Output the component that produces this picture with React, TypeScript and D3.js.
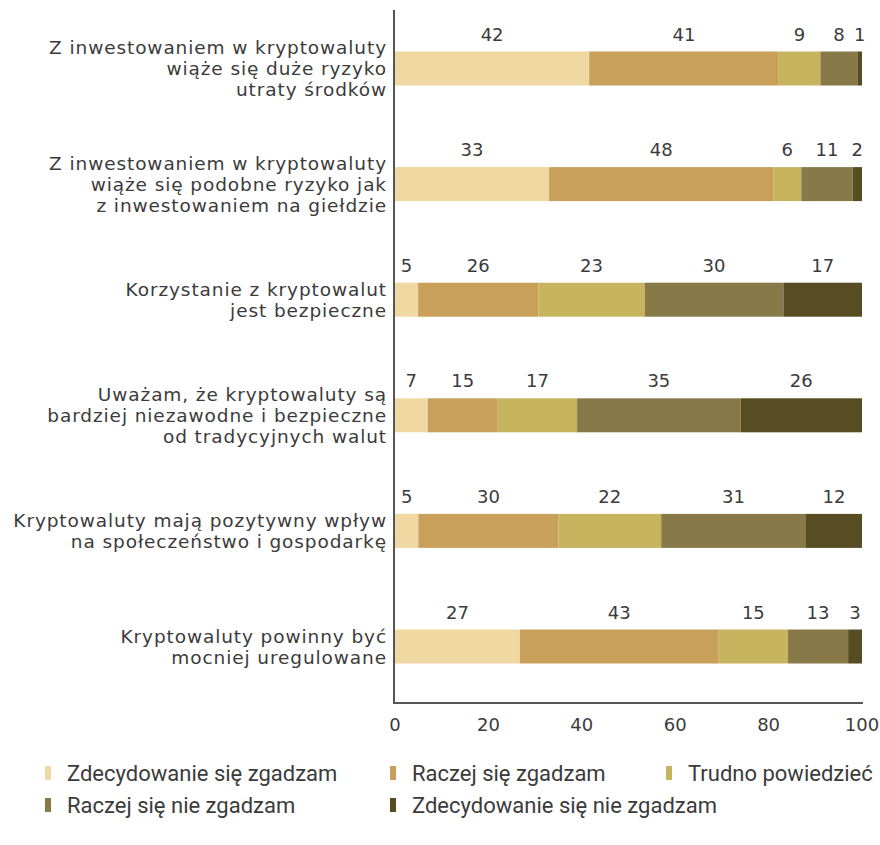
import React from "react";
import * as d3 from "d3";

// statements (one row each), split into lines as in the original
const statements = [
  ["Z inwestowaniem w kryptowaluty", "wiąże się duże ryzyko", "utraty środków"],
  ["Z inwestowaniem w kryptowaluty", "wiąże się podobne ryzyko jak", "z inwestowaniem na giełdzie"],
  ["Korzystanie z kryptowalut", "jest bezpieczne"],
  ["Uważam, że kryptowaluty są", "bardziej niezawodne i bezpieczne", "od tradycyjnych walut"],
  ["Kryptowaluty mają pozytywny wpływ", "na społeczeństwo i gospodarkę"],
  ["Kryptowaluty powinny być", "mocniej uregulowane"],
];

const zdecydowanieZgadzam = [42, 33, 5, 7, 5, 27];
const raczejZgadzam = [41, 48, 26, 15, 30, 43];
const trudnoPowiedziec = [9, 6, 23, 17, 22, 15];
const raczejNieZgadzam = [8, 11, 30, 35, 31, 13];
const zdecydowanieNieZgadzam = [1, 2, 17, 26, 12, 3];

const seriesNames = [
  "Zdecydowanie się zgadzam",
  "Raczej się zgadzam",
  "Trudno powiedzieć",
  "Raczej się nie zgadzam",
  "Zdecydowanie się nie zgadzam",
];
const colors = ["#F0D8A2", "#C8A05A", "#C6B45E", "#877A48", "#574C22"];
const xTicks = [0, 20, 40, 60, 80, 100];

const FONT = "'DejaVu Sans', sans-serif";
const LEGEND_FONT = "Roboto, sans-serif";
const TEXT = "#3b3b3b";

export default function App() {
  const width = 880;
  const height = 845;

  const seriesValues = [
    zdecydowanieZgadzam,
    raczejZgadzam,
    trudnoPowiedziec,
    raczejNieZgadzam,
    zdecydowanieNieZgadzam,
  ];

  const rows = statements.map((s, i) => {
    const row: any = { key: String(i) };
    seriesNames.forEach((n, j) => (row[n] = seriesValues[j][i]));
    return row;
  });

  const stacked = d3.stack().keys(seriesNames).offset(d3.stackOffsetExpand)(rows);

  const x = d3.scaleLinear().domain([0, 1]).range([395, 862]);
  const xAxisScale = d3.scaleLinear().domain([0, 100]).range([395, 862]);
  const y = d3
    .scaleBand()
    .domain(rows.map((r) => r.key))
    .range([10.7, 704.3]);
  const barH = 34;
  const mid = (k: string) => (y(k) as number) + y.bandwidth() / 2;

  const legendPos = [
    { x: 45, y: 773 },
    { x: 390, y: 773 },
    { x: 666, y: 773 },
    { x: 45, y: 805 },
    { x: 390, y: 805 },
  ];

  return (
    <svg
      width={width}
      height={height}
      style={{ position: "absolute", left: 0, top: 0, background: "#fff" }}
      fontFamily={FONT}
    >
      {/* bars */}
      {stacked.map((s, j) => (
        <g key={s.key} fill={colors[j]}>
          {s.map((d: any) => (
            <rect
              key={d.data.key}
              x={x(d[0])}
              y={mid(d.data.key) - barH / 2}
              width={x(d[1]) - x(d[0])}
              height={barH}
            />
          ))}
        </g>
      ))}

      {/* value labels */}
      {stacked.map((s, j) => (
        <g key={"l" + s.key} fill={TEXT} fontSize={18} textAnchor="middle">
          {s.map((d: any) => (
            <text
              key={d.data.key}
              x={(x(d[0]) + x(d[1])) / 2}
              y={mid(d.data.key) - barH / 2 - 11}
            >
              {d.data[s.key]}
            </text>
          ))}
        </g>
      ))}

      {/* axes */}
      <line x1={394} x2={394} y1={10} y2={704} stroke="#555" strokeWidth={2} />
      <line x1={393} x2={863} y1={703} y2={703} stroke="#555" strokeWidth={2} />
      {xTicks.map((t) => (
        <text
          key={t}
          x={xAxisScale(t)}
          y={731}
          fill={TEXT}
          fontSize={18}
          textAnchor="middle"
        >
          {t}
        </text>
      ))}

      {/* category labels */}
      {statements.map((lines, i) => (
        <text key={i} fill={TEXT} fontSize={18.5} letterSpacing={0.9} textAnchor="end">
          {lines.map((ln, k) => (
            <tspan
              key={k}
              x={387}
              y={mid(String(i)) + (k - (lines.length - 1) / 2) * 21}
              dominantBaseline="central"
            >
              {ln}
            </tspan>
          ))}
        </text>
      ))}

      {/* legend */}
      {seriesNames.map((n, j) => (
        <g key={n} transform={`translate(${legendPos[j].x},${legendPos[j].y})`}>
          <rect x={0} y={-7} width={6} height={14} fill={colors[j]} />
          <text
            x={22}
            y={0}
            dominantBaseline="central"
            fill={TEXT}
            fontSize={22}
            fontFamily={LEGEND_FONT}
          >
            {n}
          </text>
        </g>
      ))}
    </svg>
  );
}
